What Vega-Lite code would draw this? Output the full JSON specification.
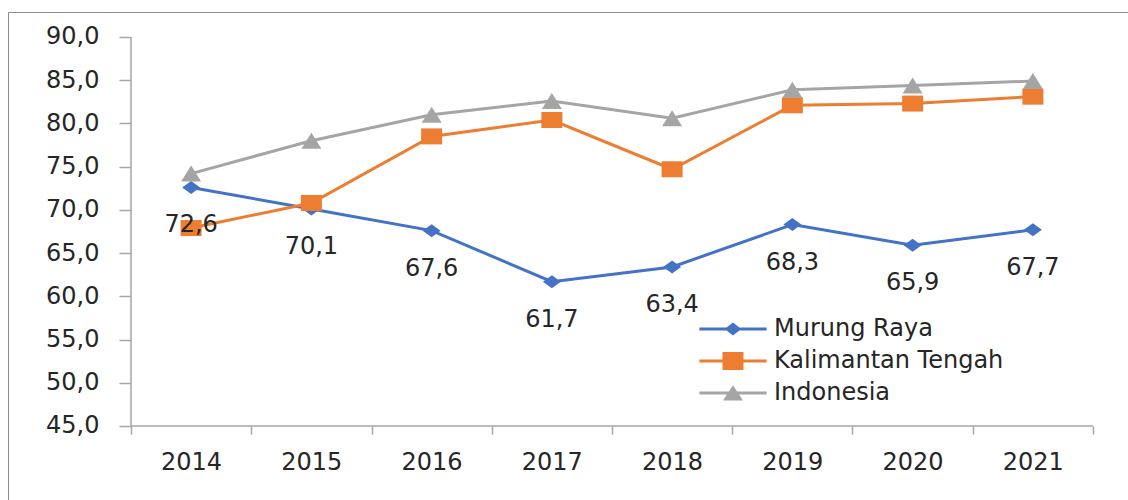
{
  "$schema": "https://vega.github.io/schema/vega-lite/v6.json",
  "autosize": {"type": "none"},
  "padding": {"left": 8, "top": 12, "right": -3, "bottom": -3},
  "width": 1123,
  "height": 491,
  "background": "white",
  "config": {
    "locale": {"number": {"decimal": ",", "thousands": ".", "grouping": [3], "currency": ["", ""]}},
    "font": "DejaVu Sans",
    "view": {"stroke": "#8C8C8C", "strokeWidth": 1},
    "axis": {"grid": false, "labelFont": "DejaVu Sans", "labelFontSize": 24, "labelColor": "#262626", "tickColor": "#A6A6A6", "tickWidth": 1.5, "domain": false}
  },
  "datasets": {
    "ipm": [
      {"year": 2014, "series": "Murung Raya", "value": 72.6},
      {"year": 2015, "series": "Murung Raya", "value": 70.1},
      {"year": 2016, "series": "Murung Raya", "value": 67.6},
      {"year": 2017, "series": "Murung Raya", "value": 61.7},
      {"year": 2018, "series": "Murung Raya", "value": 63.4},
      {"year": 2019, "series": "Murung Raya", "value": 68.3},
      {"year": 2020, "series": "Murung Raya", "value": 65.9},
      {"year": 2021, "series": "Murung Raya", "value": 67.7},
      {"year": 2014, "series": "Kalimantan Tengah", "value": 67.9},
      {"year": 2015, "series": "Kalimantan Tengah", "value": 70.8},
      {"year": 2016, "series": "Kalimantan Tengah", "value": 78.5},
      {"year": 2017, "series": "Kalimantan Tengah", "value": 80.4},
      {"year": 2018, "series": "Kalimantan Tengah", "value": 74.7},
      {"year": 2019, "series": "Kalimantan Tengah", "value": 82.1},
      {"year": 2020, "series": "Kalimantan Tengah", "value": 82.3},
      {"year": 2021, "series": "Kalimantan Tengah", "value": 83.1},
      {"year": 2014, "series": "Indonesia", "value": 74.2},
      {"year": 2015, "series": "Indonesia", "value": 78.0},
      {"year": 2016, "series": "Indonesia", "value": 81.0},
      {"year": 2017, "series": "Indonesia", "value": 82.6},
      {"year": 2018, "series": "Indonesia", "value": 80.6},
      {"year": 2019, "series": "Indonesia", "value": 83.9},
      {"year": 2020, "series": "Indonesia", "value": 84.4},
      {"year": 2021, "series": "Indonesia", "value": 84.9}
    ]
  },
  "layer": [
    {
      "data": {"name": "ipm"},
      "mark": {"type": "point", "filled": true, "opacity": 0},
      "encoding": {
        "x": {"field": "year", "type": "quantitative", "scale": {"domain": [2012.47713, 2021.81601], "nice": false, "zero": false}},
        "y": {"field": "value", "type": "quantitative", "scale": {"domain": [36.0925, 92.89203], "nice": false, "zero": false}},
        "color": {
          "field": "series", "type": "nominal",
          "scale": {"domain": ["Murung Raya", "Kalimantan Tengah", "Indonesia"], "range": ["#4472C4", "#ED7D31", "#A5A5A5"]},
          "legend": {
            "orient": "none", "legendX": 713, "legendY": 305,
            "title": null, "padding": 0,
            "symbolSize": 441, "symbolStrokeWidth": 0, "symbolOpacity": 1,
            "labelFont": "DejaVu Sans", "labelFontSize": 24, "labelColor": "#262626", "labelLimit": 500,
            "labelOffset": 29, "rowPadding": 8
          }
        },
        "shape": {
          "field": "series", "type": "nominal",
          "scale": {
            "domain": ["Murung Raya", "Kalimantan Tengah", "Indonesia"],
            "range": [
              "M-3.2,-0.14H3.2V0.14H-3.2Z M0,-0.62L0.8,0L0,0.62L-0.8,0Z",
              "M-3.2,-0.14H3.2V0.14H-3.2Z M-1,-0.86H1V0.86H-1Z",
              "M-3.2,-0.14H3.2V0.14H-3.2Z M0,-0.74L0.95,0.72H-0.95Z"
            ]
          }
        }
      }
    },
    {
      "data": {"values": [{}]},
      "mark": {"type": "rule", "color": "#A6A6A6", "strokeWidth": 1.5},
      "encoding": {
        "x": {"datum": 2013.5, "type": "quantitative", "scale": {"domain": [2012.47713, 2021.81601], "nice": false, "zero": false}},
        "y": {"datum": 45, "type": "quantitative", "scale": {"domain": [36.0925, 92.89203], "nice": false, "zero": false}},
        "y2": {"datum": 90}
      }
    },
    {
      "data": {"values": [{}]},
      "mark": {"type": "rule", "color": "#A6A6A6", "strokeWidth": 1.5},
      "encoding": {
        "x": {"datum": 2013.5, "type": "quantitative", "scale": {"domain": [2012.47713, 2021.81601], "nice": false, "zero": false}},
        "x2": {"datum": 2021.5},
        "y": {"datum": 45, "type": "quantitative", "scale": {"domain": [36.0925, 92.89203], "nice": false, "zero": false}}
      }
    },
    {
      "data": {"name": "ipm"},
      "mark": {"type": "line", "strokeWidth": 3},
      "encoding": {
        "x": {
          "field": "year", "type": "quantitative", "title": null,
          "scale": {"domain": [2012.47713, 2021.81601], "nice": false, "zero": false},
          "axis": {
            "orient": "bottom", "offset": -77, "title": null,
            "values": [2013.5, 2014.5, 2015.5, 2016.5, 2017.5, 2018.5, 2019.5, 2020.5, 2021.5],
            "labelExpr": "datum.value < 2021 ? '' + (datum.value + 0.5) : ''",
            "labelOffset": 60, "tickSize": 8, "labelPadding": 16, "labelFlush": false, "labelOverlap": false
          }
        },
        "y": {
          "field": "value", "type": "quantitative", "title": null,
          "scale": {"domain": [36.0925, 92.89203], "nice": false, "zero": false},
          "axis": {
            "orient": "left", "offset": -123, "title": null,
            "values": [45, 50, 55, 60, 65, 70, 75, 80, 85, 90],
            "format": ".1f", "tickSize": 12, "labelPadding": 20
          }
        },
        "color": {
          "field": "series", "type": "nominal",
          "scale": {"domain": ["Murung Raya", "Kalimantan Tengah", "Indonesia"], "range": ["#4472C4", "#ED7D31", "#A5A5A5"]}
        }
      }
    },
    {
      "data": {"name": "ipm"},
      "mark": {"type": "point", "filled": true, "opacity": 1, "size": 400},
      "encoding": {
        "x": {"field": "year", "type": "quantitative", "scale": {"domain": [2012.47713, 2021.81601], "nice": false, "zero": false}},
        "y": {"field": "value", "type": "quantitative", "scale": {"domain": [36.0925, 92.89203], "nice": false, "zero": false}},
        "color": {
          "field": "series", "type": "nominal",
          "scale": {"domain": ["Murung Raya", "Kalimantan Tengah", "Indonesia"], "range": ["#4472C4", "#ED7D31", "#A5A5A5"]}
        },
        "shape": {
          "condition": [
            {"test": "datum.series == 'Murung Raya'", "value": "M0,-0.65L0.9,0L0,0.65L-0.9,0Z"},
            {"test": "datum.series == 'Kalimantan Tengah'", "value": "M-1.05,-0.8H1.05V0.8H-1.05Z"}
          ],
          "value": "M0,-0.8L1,0.8H-1Z"
        }
      }
    },
    {
      "data": {"name": "ipm"},
      "transform": [{"filter": "datum.series == 'Murung Raya'"}],
      "mark": {"type": "text", "dy": 38, "fontSize": 24, "font": "DejaVu Sans", "color": "#262626", "baseline": "middle", "align": "center"},
      "encoding": {
        "x": {"field": "year", "type": "quantitative", "scale": {"domain": [2012.47713, 2021.81601], "nice": false, "zero": false}},
        "y": {"field": "value", "type": "quantitative", "scale": {"domain": [36.0925, 92.89203], "nice": false, "zero": false}},
        "text": {"field": "value", "type": "quantitative", "format": ".1f"}
      }
    }
  ]
}
